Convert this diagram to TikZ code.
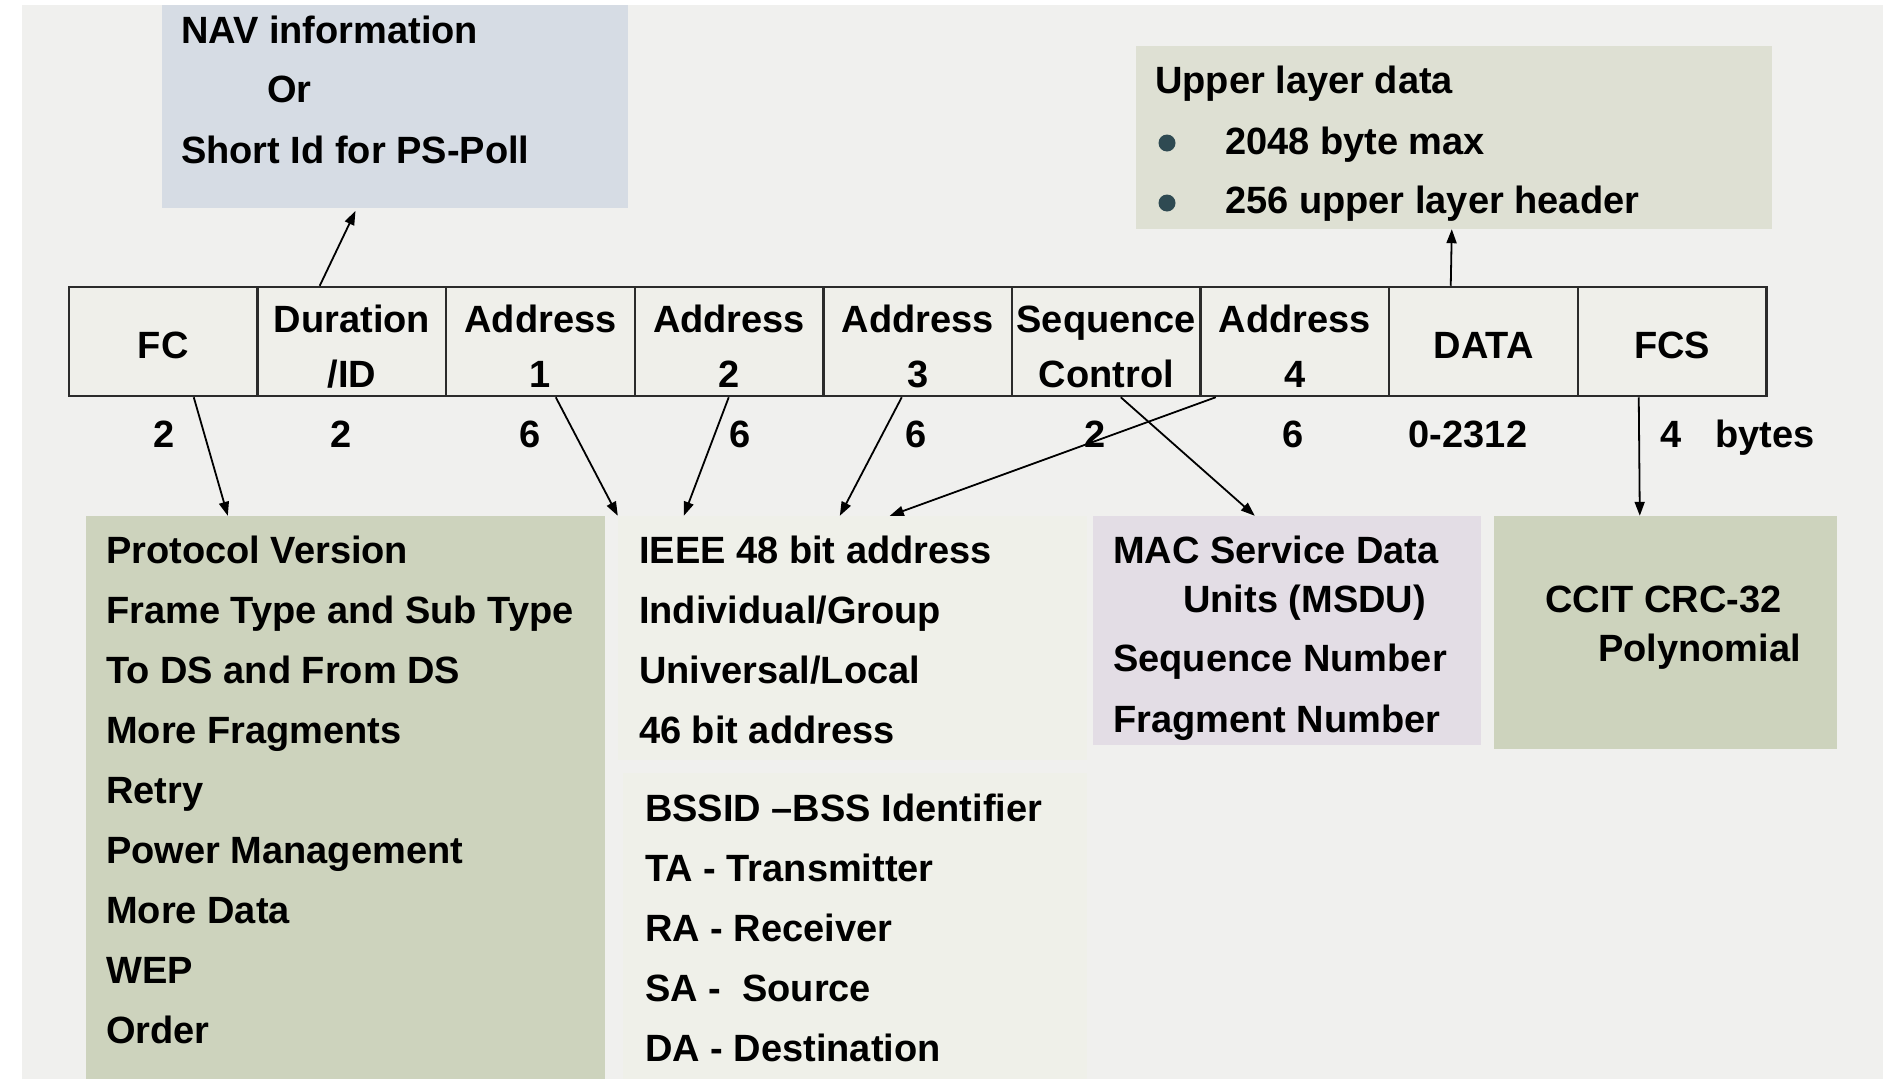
\documentclass[tikz,border=0pt]{standalone}
\usepackage{fontspec}
\setmainfont{Liberation Sans}
\usetikzlibrary{arrows.meta,calc}

\definecolor{pagebg}{HTML}{F0F0EE}
\definecolor{cellfill}{HTML}{EFEFEA}
\definecolor{framegray}{HTML}{2B2B2B}
\definecolor{navfill}{HTML}{D6DCE4}
\definecolor{upperfill}{HTML}{DEE0D3}
\definecolor{sagefill}{HTML}{CDD3BD}
\definecolor{addrfill}{HTML}{EFF0E9}
\definecolor{msdufill}{HTML}{E3DDE5}
\definecolor{bulletcol}{HTML}{2F4A52}

\begin{document}
\begin{tikzpicture}[x=1pt,y=-1pt,
  font=\fontsize{38}{46}\selectfont\bfseries,
  cell/.style={draw=framegray, line width=2.5pt, fill=cellfill,
    minimum width=188.6pt, minimum height=109pt, inner sep=0pt},
  panel/.style={draw=none, inner sep=0pt},
  txt/.style={anchor=base west, inner sep=0pt},
  ctr/.style={anchor=base, inner sep=0pt},
  arr/.style={-{Triangle[length=14pt,width=10pt]}, line width=1.8pt}]

% canvas and page background
\useasboundingbox (0,0) rectangle (1883,1079);
\fill[white] (0,0) rectangle (1883,1079);
\fill[pagebg] (22,5) rectangle (1883,1079);

% explanation panels
\node[panel, fill=navfill,   minimum width=466pt, minimum height=203pt] (nav)   at (395,106.5) {};
\node[panel, fill=upperfill, minimum width=636pt, minimum height=183pt] (upper) at (1454,137.5) {};
\node[panel, fill=sagefill,  minimum width=519pt, minimum height=563pt] (fcbox) at (345.5,797.5) {};
\node[panel, fill=addrfill,  minimum width=469pt, minimum height=244pt] (addrA) at (852.5,638) {};
\node[panel, fill=addrfill,  minimum width=464pt, minimum height=306pt] (addrB) at (855,926) {};
\node[panel, fill=msdufill,  minimum width=388pt, minimum height=229pt] (msdu)  at (1287,630.5) {};
\node[panel, fill=sagefill,  minimum width=343pt, minimum height=233pt] (crc)   at (1665.5,632.5) {};

% MAC frame fields
\node[cell] (fc)   at (163.3,341.5) {};
\node[cell] (dur)  at (351.9,341.5) {};
\node[cell] (a1)   at (540.5,341.5) {};
\node[cell] (a2)   at (729.1,341.5) {};
\node[cell] (a3)   at (917.7,341.5) {};
\node[cell] (seq)  at (1106.3,341.5) {};
\node[cell] (a4)   at (1294.9,341.5) {};
\node[cell] (data) at (1483.5,341.5) {};
\node[cell] (fcs)  at (1672.1,341.5) {};

% field names
\node[ctr] (tfc)   at (163.3,358) {FC};
\node[ctr] (tdur1) at (351.9,332) {Duration};
\node[ctr] (tdur2) at (351.9,387) {/ID};
\node[ctr] (ta11)  at (540.5,332) {Address};
\node[ctr] (ta12)  at (540.5,387) {1};
\node[ctr] (ta21)  at (729.1,332) {Address};
\node[ctr] (ta22)  at (729.1,387) {2};
\node[ctr] (ta31)  at (917.7,332) {Address};
\node[ctr] (ta32)  at (917.7,387) {3};
\node[ctr] (tseq1) at (1106.3,332) {Sequence};
\node[ctr] (tseq2) at (1106.3,387) {Control};
\node[ctr] (ta41)  at (1294.9,332) {Address};
\node[ctr] (ta42)  at (1294.9,387) {4};
\node[ctr] (tdata) at (1483.5,358) {DATA};
\node[ctr] (tfcs)  at (1672.1,358) {FCS};

% field sizes
\node[ctr] (s1) at (164,447)  {2};
\node[ctr] (s2) at (341,447)  {2};
\node[ctr] (s3) at (530,447)  {6};
\node[ctr] (s4) at (740,447)  {6};
\node[ctr] (s5) at (916,447)  {6};
\node[ctr] (s6) at (1095,447) {2};
\node[ctr] (s7) at (1293,447) {6};
\node[ctr] (s8) at (1468,447) {0-2312};
\node[ctr] (s9) at (1671,447) {4};
\node[ctr] (s10) at (1765,447) {bytes};

% NAV panel text
\node[txt] (nav1) at (181,43)  {NAV information};
\node[txt] (nav2) at (267,102) {Or};
\node[txt] (nav3) at (181,163) {Short Id for PS-Poll};

% upper layer panel text
\node[txt] (up1) at (1155,93)  {Upper layer data};
\fill[bulletcol] (1167,143) circle[radius=8.5pt];
\fill[bulletcol] (1167,203) circle[radius=8.5pt];
\node[txt] (up2) at (1225,154) {2048 byte max};
\node[txt] (up3) at (1225,213) {256 upper layer header};

% frame control subfields
\node[txt] (f1) at (106,563)  {Protocol Version};
\node[txt] (f2) at (106,623)  {Frame Type and Sub Type};
\node[txt] (f3) at (106,683)  {To DS and From DS};
\node[txt] (f4) at (106,743)  {More Fragments};
\node[txt] (f5) at (106,803)  {Retry};
\node[txt] (f6) at (106,863)  {Power Management};
\node[txt] (f7) at (106,923)  {More Data};
\node[txt] (f8) at (106,983)  {WEP};
\node[txt] (f9) at (106,1043) {Order};

% address panels
\node[txt] (ad1) at (639,563) {IEEE 48 bit address};
\node[txt] (ad2) at (639,623) {Individual/Group};
\node[txt] (ad3) at (639,683) {Universal/Local};
\node[txt] (ad4) at (639,743) {46 bit address};
\node[txt] (bs1) at (645,821)  {BSSID --BSS Identifier};
\node[txt] (bs2) at (645,881)  {TA - Transmitter};
\node[txt] (bs3) at (645,941)  {RA - Receiver};
\node[txt] (bs4) at (645,1001) {SA -\ \ Source};
\node[txt] (bs5) at (645,1061) {DA - Destination};

% sequence control panel
\node[txt] (ms1) at (1113,563) {MAC Service Data};
\node[txt] (ms2) at (1183,612) {Units (MSDU)};
\node[txt] (ms3) at (1113,671) {Sequence Number};
\node[txt] (ms4) at (1113,732) {Fragment Number};

% FCS panel
\node[txt] (cr1) at (1545,612) {CCIT CRC-32};
\node[txt] (cr2) at (1598,661) {Polynomial};

% connectors
\draw[arr, shorten >=3pt] ([xshift=63.4pt]dur.north west) -- ([xshift=195pt]nav.south west);
\draw[arr] ([xshift=62.8pt]data.north west) -- ([xshift=316pt]upper.south west);
\draw[arr] ([xshift=126pt]fc.south west)  -- ([xshift=142pt]fcbox.north west);
\draw[arr] ([xshift=110.8pt]a1.south west) -- (addrA.north west);
\draw[arr] ([xshift=95.2pt]a2.south west) -- ([xshift=66pt]addrA.north west);
\draw[arr] ([xshift=79.6pt]a3.south west) -- ([xshift=222pt]addrA.north west);
\draw[arr] ([xshift=16.4pt]a4.south west) -- ([xshift=272pt]addrA.north west);
\draw[arr] ([xshift=110pt]seq.south west) -- ([xshift=162pt]msdu.north west);
\draw[arr] ([xshift=62.2pt]fcs.south west) -- ([xshift=146pt]crc.north west);
\end{tikzpicture}
\end{document}
